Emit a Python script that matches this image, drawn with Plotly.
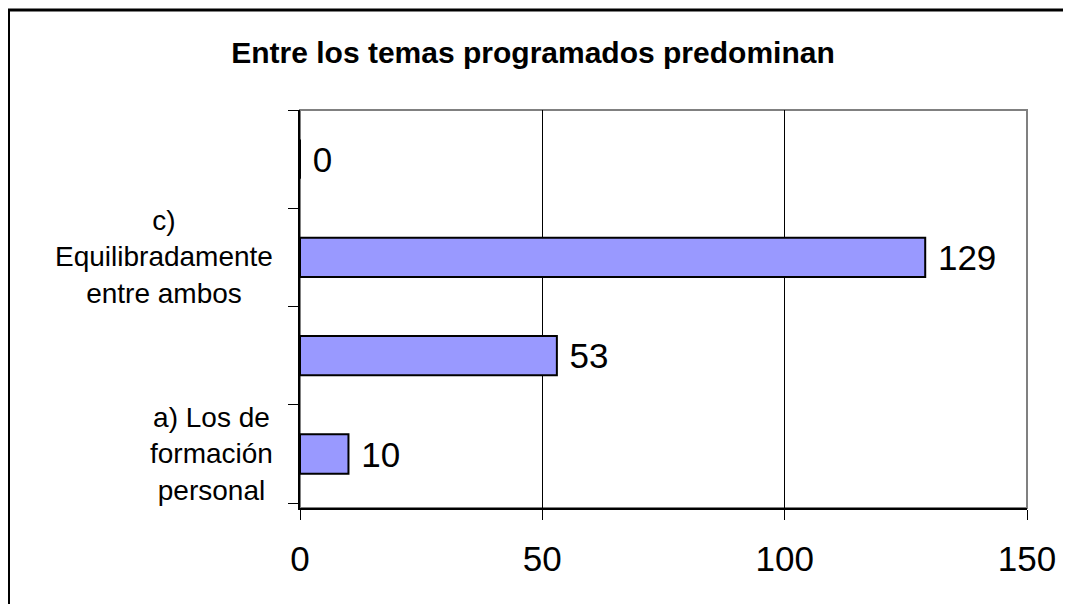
import plotly.graph_objects as go

categories = ["a", "b", "c", "d"]
category_labels = ["a) Los de<br>formación<br>personal", "", "c)<br>Equilibradamente<br>entre ambos", ""]
values = [10, 53, 129, 0]
x_ticks = [0, 50, 100, 150]
title_text = "Entre los temas programados predominan"

FONT = "Liberation Sans, Arial, sans-serif"

L, T, PW, PH = 292, 102, 727, 398
W, H = 1071, 604

fig = go.Figure()
fig.add_trace(go.Bar(
    y=categories, x=values, orientation="h",
    marker=dict(color="#9999FF", line=dict(color="black", width=2)),
    width=0.4,
    text=[str(v) for v in values], texttemplate=" %{text}", textposition="outside",
    textfont=dict(family=FONT, size=35, color="black"),
    constraintext="none", cliponaxis=False,
))

fig.update_layout(
    width=W, height=H,
    margin=dict(l=L, r=W - L - PW, t=T, b=H - T - PH),
    paper_bgcolor="white", plot_bgcolor="white",
    showlegend=False,
    title=dict(text="<b>" + title_text + "</b>", x=(533 - 8) / W, xanchor="center",
               y=1 - 44 / H, yanchor="middle",
               font=dict(family=FONT, size=30, color="black")),
    shapes=[
        dict(type="rect", xref="paper", yref="paper", x0=0, x1=1, y0=0, y1=1,
             line=dict(color="#808080", width=2), layer="below"),
        dict(type="line", xref="x", yref="paper", x0=150, x1=150, y0=0, y1=1,
             line=dict(color="#808080", width=2)),
        # outer chart border (extends beyond the right/bottom edges as in the reference)
        dict(type="rect", xref="paper", yref="paper",
             x0=(0.5 - L) / PW, x1=(W + 20 - L) / PW,
             y0=-(H + 20 - T - PH) / PH, y1=1 + (T - 2) / PH,
             line=dict(color="black", width=3), layer="below"),
    ],
)

# category labels: centred multi-line blocks, right edge 25px left of the axis
for cat, lab in zip(categories, category_labels):
    if lab:
        fig.add_annotation(
            text=lab, xref="paper", yref="y", x=-25 / PW, y=cat,
            xanchor="right", yanchor="middle", align="center",
            showarrow=False, font=dict(family=FONT, size=28, color="black"),
        )

fig.update_xaxes(
    range=[0, 150], tickvals=x_ticks, ticktext=[str(t) for t in x_ticks],
    showgrid=True, gridcolor="black", gridwidth=1,
    showline=True, linecolor="black", linewidth=2,
    ticks="outside", ticklen=10, tickcolor="black", tickwidth=1,
    ticklabelstandoff=9,
    tickfont=dict(family=FONT, size=35, color="black"),
    zeroline=False, fixedrange=True,
)
fig.update_yaxes(
    type="category", categoryorder="array", categoryarray=categories,
    tickvals=categories, ticktext=category_labels,
    tickson="boundaries", showticklabels=False,
    showgrid=False,
    showline=True, linecolor="black", linewidth=2,
    ticks="outside", ticklen=10, tickcolor="black", tickwidth=1,
    fixedrange=True,
)

fig.write_html("out.html")
